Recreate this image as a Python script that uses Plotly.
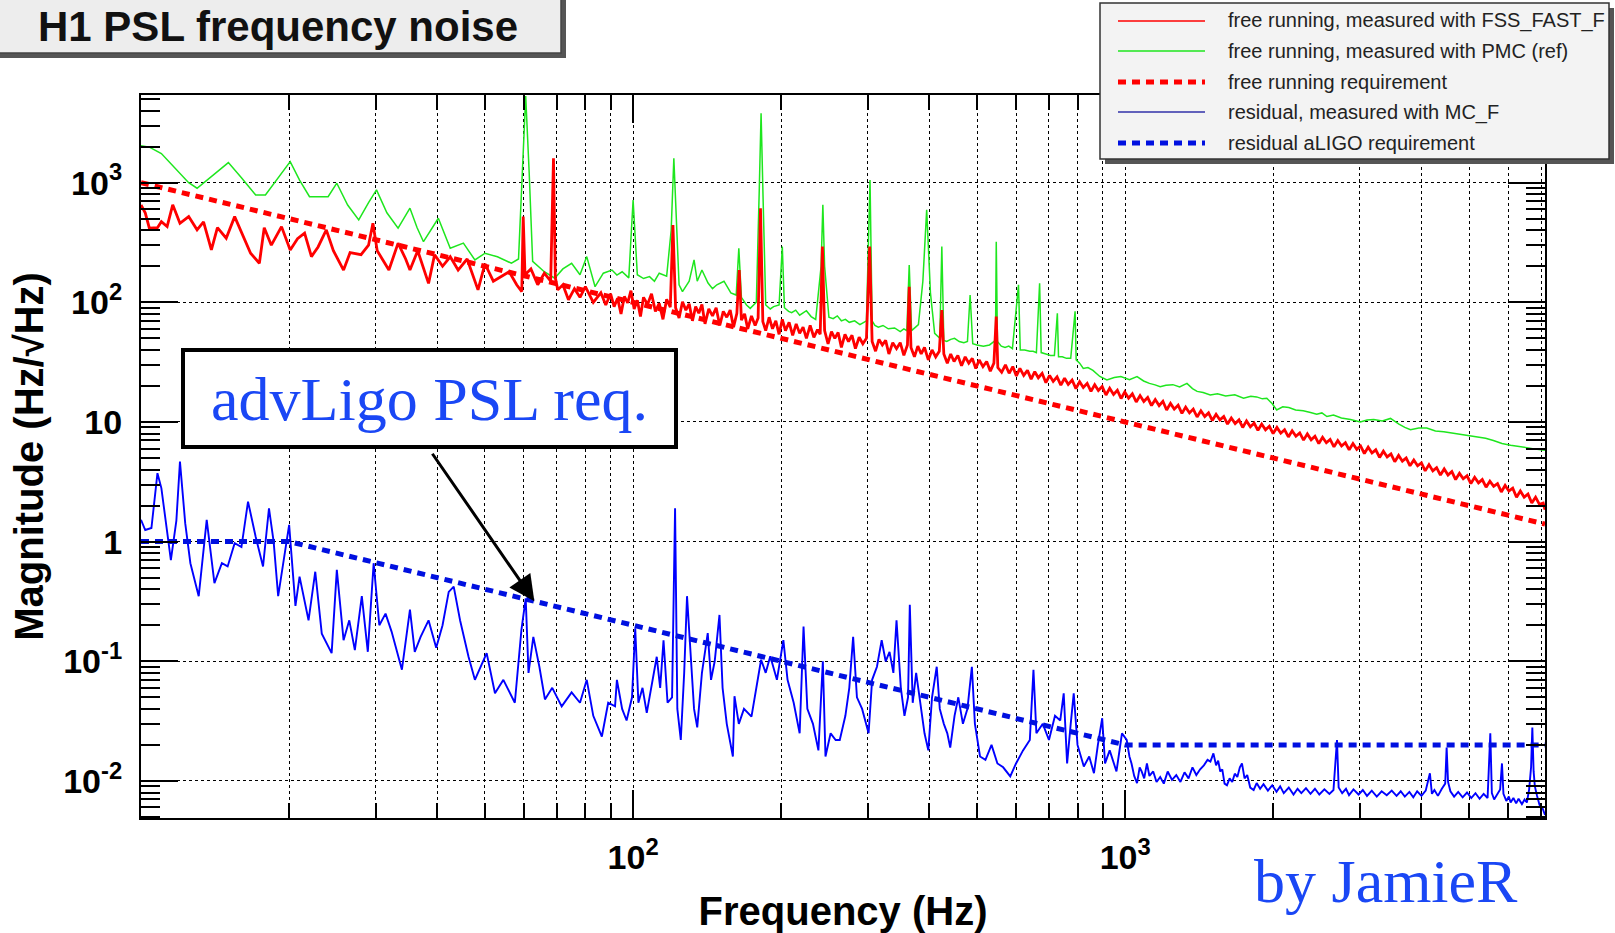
import plotly.graph_objects as go
import math

# ------------------------------------------------------------------ data
# free running, measured with PMC (ref)  -- (Hz, Hz/rtHz)
green = [
    (10.0, 2030), (10.4, 1980), (11.0, 1750), (11.8, 1300), (12.5, 1000), (13.0, 898),
    (14.0, 1150), (15.05, 1470), (16.0, 1100), (17.1, 789), (17.9, 789), (19.0, 1100),
    (20.1, 1500), (21.0, 1050), (22.0, 764), (24.0, 764), (25.0, 989), (26.3, 650),
    (27.7, 488), (29.0, 680), (30.1, 869), (31.6, 560), (33.3, 416), (35.2, 611),
    (36.4, 420), (37.5, 321), (40.2, 504), (42.5, 283), (45.2, 312), (47.7, 226),
    (50.0, 257), (53.0, 240), (56.6, 212), (58.5, 230), (59.6, 1200), (60.5, 5300),
    (61.5, 1200), (62.5, 220), (66.0, 180), (69.3, 159), (72.0, 190), (75.0, 212),
    (78.0, 170), (80.5, 241), (83.7, 135), (87.0, 175), (90.6, 186), (92.7, 169),
    (95.0, 180), (98.0, 160), (100.0, 716), (102.0, 170), (105.0, 158), (108.0, 164),
    (110.5, 150), (113.0, 175), (117.0, 165), (119.5, 400), (121.0, 1600), (122.5, 400),
    (124.0, 140), (126.0, 123), (130.0, 150), (133.0, 226), (135.0, 150), (138.0, 186),
    (142.0, 145), (145.0, 130), (148.0, 140), (153.0, 150), (158.0, 120), (162.0, 115),
    (164.0, 283), (166.0, 110), (170.0, 95), (173.0, 89), (178.0, 100), (180.5, 900),
    (182.0, 3800), (183.5, 900), (186.0, 95), (190.0, 88), (193.0, 92), (198.0, 95),
    (201.0, 292), (203.0, 90), (207.0, 84), (210.0, 82), (214.0, 86), (218.0, 78),
    (225.0, 85), (230.0, 76), (235.0, 72), (241.0, 200), (243.0, 652), (245.0, 200),
    (250.0, 75), (255.0, 73), (260.0, 77), (265.0, 70), (270.0, 72), (275.0, 68),
    (282.0, 70), (289.0, 65), (298.0, 70), (303.0, 1050), (306.0, 70), (310.0, 64),
    (315.0, 62), (322.0, 64), (330.0, 60), (340.0, 61), (349.0, 57), (355.0, 60),
    (360.0, 58), (364.0, 205), (368.0, 58), (375.0, 62), (380.0, 65), (388.0, 150),
    (392.0, 320), (395.0, 592), (398.0, 300), (402.0, 120), (410.0, 55), (420.0, 50),
    (424.0, 292), (428.0, 48), (434.0, 47), (442.0, 49), (450.0, 50), (460.0, 47),
    (470.0, 46), (478.0, 47), (484.0, 115), (490.0, 45), (500.0, 44), (515.0, 43),
    (530.0, 44), (545.0, 48), (547.0, 321), (550.0, 47), (560.0, 43), (570.0, 42),
    (580.0, 43), (590.0, 41), (607.0, 140), (612.0, 40), (625.0, 40), (640.0, 39),
    (650.0, 39), (660.0, 38), (670.0, 144), (675.0, 38), (690.0, 37), (705.0, 36),
    (718.0, 36), (728.0, 81), (732.0, 35), (745.0, 35), (760.0, 34), (775.0, 34),
    (791.0, 84), (795.0, 33), (808.0, 31), (822.0, 28), (840.0, 28.5), (860.0, 27),
    (888.0, 24), (918.0, 22.4), (950.0, 23.5), (980.0, 24), (1020, 22.5), (1057, 23.9),
    (1090, 22), (1120, 21), (1150, 20.4), (1178, 19.7), (1210, 20.3), (1250, 20.5),
    (1290, 19.6), (1335, 21), (1370, 19), (1400, 18), (1440, 17.6), (1489, 16.8),
    (1540, 17.2), (1600, 16.5), (1670, 16.9), (1740, 15.8), (1800, 16.4), (1850, 16.2),
    (1900, 15.6), (1940, 15.8), (1990, 14.2), (2032, 12.6), (2090, 13.4), (2150, 13.2),
    (2220, 12.6), (2300, 12.4), (2380, 12.0), (2450, 11.6), (2510, 11.9), (2570, 11.1),
    (2650, 11.4), (2750, 10.8), (2870, 10.5), (3005, 10.0), (3100, 10.4), (3200, 10.5),
    (3330, 10.2), (3460, 10.7), (3600, 9.6), (3700, 9.0), (3800, 8.6), (3950, 8.9),
    (4100, 8.9), (4270, 8.4), (4440, 8.3), (4620, 8.1), (4800, 7.9), (5000, 7.7),
    (5190, 7.5), (5400, 7.3), (5600, 7.0), (5830, 6.6), (6070, 6.4), (6330, 6.2),
    (6600, 6.0), (6870, 5.9), (7130, 5.8),
]

# free running, measured with FSS_FAST_F
red = [
    (10.0, 650), (10.2, 560), (10.4, 416), (10.8, 420), (11.0, 472), (11.3, 430),
    (11.6, 652), (12.0, 457), (12.5, 520), (13.0, 403), (13.4, 470), (13.9, 274),
    (14.3, 420), (14.9, 343), (15.5, 520), (16.0, 380), (16.7, 257), (17.4, 212),
    (17.8, 420), (18.4, 300), (19.3, 429), (20.1, 274), (20.8, 340), (21.5, 378),
    (22.2, 241), (22.9, 290), (23.8, 403), (24.6, 270), (25.8, 186), (26.6, 260),
    (28.0, 250), (29.0, 300), (29.6, 457), (30.2, 270), (31.9, 186), (33.3, 312),
    (34.5, 230), (35.2, 186), (36.5, 270), (38.4, 144), (39.5, 250), (41.0, 200),
    (42.5, 240), (44.1, 186), (46.0, 230), (48.4, 127), (50.0, 210), (52.0, 150),
    (54.1, 164), (56.0, 180), (58.0, 140), (59.4, 123), (59.8, 520), (60.3, 170),
    (62.0, 190), (64.0, 140), (66.0, 175), (68.0, 150), (68.9, 1600), (69.5, 160),
    (70.3, 127), (72.0, 140), (73.9, 105), (76.0, 130), (78.0, 110), (80.0, 135),
    (83.0, 100), (86.0, 120), (88.0, 95),
    (90.0, 118), (91.5, 92), (93.0, 108), (94.5, 80), (96.0, 112), (97.5, 99),
    (99.0, 125), (100.5, 88), (102.0, 104), (103.5, 76), (105.0, 110), (107.0, 96),
    (109.0, 118), (111.0, 84), (113.0, 98), (115.0, 72), (117.0, 106), (119.0, 91),
    (120.5, 443), (122.0, 90), (124.0, 74), (126.0, 101), (128.0, 86), (130.0, 97),
    (132.0, 70), (134.0, 92), (136.0, 81), (138.0, 96), (140.0, 66), (142.5, 88),
    (145.0, 77), (147.5, 90), (150.0, 64), (152.5, 84), (155.0, 75), (157.5, 86),
    (160.0, 62), (162.5, 81), (164.3, 186), (166.0, 71), (168.5, 80), (171.0, 60),
    (174.0, 77), (177.0, 64), (179.5, 74), (181.5, 611), (183.5, 69), (186.0, 58),
    (189.0, 75), (192.0, 60), (195.0, 70), (198.0, 54), (201.0, 72), (204.0, 58),
    (207.5, 68), (211.0, 53), (214.5, 66), (218.0, 55), (221.5, 62), (225.0, 50),
    (229.0, 64), (233.0, 51), (237.0, 59), (240.0, 54), (242.5, 292), (245.0, 58),
    (249.0, 45), (253.0, 57), (257.0, 50), (261.0, 56), (265.0, 42), (269.5, 54),
    (274.0, 47), (278.5, 53), (283.0, 41), (288.0, 51), (293.0, 45), (298.0, 50),
    (302.5, 292), (306.0, 47), (311.0, 39), (316.0, 49), (321.0, 44), (326.0, 48),
    (331.0, 37), (337.0, 46), (343.0, 41), (349.0, 46), (355.0, 36), (361.0, 44),
    (364.0, 135), (367.0, 42), (373.0, 35), (379.0, 43), (385.0, 37), (391.0, 42),
    (398.0, 33), (405.0, 40), (412.0, 35), (419.0, 39), (424.0, 86), (428.0, 37),
    (435.0, 31), (442.0, 37), (449.0, 32), (457.0, 36), (465.0, 29.5), (473.0, 35),
    (481.0, 31), (489.0, 34), (497.0, 28), (505.0, 33), (514.0, 29), (523.0, 32),
    (532.0, 26.5), (541.0, 31), (547.0, 76), (551.0, 28.5), (561.0, 26), (571.0, 30),
    (581.0, 25.5), (591.0, 29), (601.0, 24.2), (611.0, 28), (622.0, 24.5), (633.0, 27),
    (644.0, 22.8), (655.0, 26.3), (666.0, 23.4), (678.0, 25.5), (690.0, 21.3), (702.0, 24.5),
    (714.0, 21.8), (727.0, 23.8), (740.0, 20.3), (753.0, 23.2), (766.0, 20.6), (780.0, 22.4),
    (794.0, 19.0), (808.0, 21.7), (822.0, 19.4), (837.0, 21.0), (852.0, 18.0), (867.0, 20.5),
    (882.0, 18.3), (898.0, 19.8), (914.0, 16.8), (930.0, 19.1), (947.0, 17.0), (964.0, 18.4),
    (981.0, 15.7), (998.0, 17.8), (1016, 15.8), (1034, 17.2), (1053, 14.7), (1072, 16.6),
    (1091, 14.8), (1111, 16.0), (1131, 13.7), (1151, 15.4), (1172, 13.7), (1193, 14.9),
    (1214, 12.6), (1236, 14.3), (1258, 12.8), (1281, 13.8), (1304, 11.8), (1327, 13.3),
    (1351, 11.9), (1375, 12.8), (1400, 11.0), (1425, 12.4), (1451, 11.1), (1477, 11.9),
    (1503, 10.3), (1530, 11.6), (1558, 10.4), (1586, 11.1), (1614, 9.6), (1643, 10.8),
    (1673, 9.7), (1703, 10.4), (1733, 9.0), (1764, 10.2), (1796, 9.1), (1828, 9.8),
    (1861, 8.5), (1894, 9.6), (1928, 8.6), (1963, 9.2), (1998, 8.0), (2034, 9.0),
    (2071, 8.05), (2108, 8.6), (2146, 7.5), (2184, 8.45), (2223, 7.6), (2263, 8.1),
    (2304, 7.05), (2345, 7.95), (2387, 7.1), (2430, 7.6), (2474, 6.6), (2518, 7.45),
    (2563, 6.7), (2609, 7.15), (2656, 6.2), (2704, 7.0), (2752, 6.3), (2802, 6.7),
    (2852, 5.85), (2903, 6.6), (2955, 5.9), (3008, 6.3), (3062, 5.45), (3117, 6.15),
    (3173, 5.5), (3230, 5.85), (3288, 5.05), (3347, 5.7), (3407, 5.1), (3468, 5.4),
    (3530, 4.65), (3594, 5.25), (3658, 4.7), (3724, 5.0), (3791, 4.3), (3859, 4.8),
    (3928, 4.3), (3999, 4.55), (4070, 3.9), (4143, 4.4), (4218, 3.9), (4294, 4.15),
    (4371, 3.6), (4449, 4.05), (4529, 3.6), (4611, 3.85), (4693, 3.3), (4778, 3.72),
    (4864, 3.35), (4951, 3.55), (5040, 3.05), (5130, 3.45), (5223, 3.1), (5316, 3.3),
    (5412, 2.85), (5509, 3.2), (5608, 2.9), (5709, 3.05), (5812, 2.6), (5916, 2.95),
    (6022, 2.65), (6131, 2.8), (6241, 2.35), (6353, 2.65), (6467, 2.35), (6584, 2.5),
    (6702, 2.1), (6823, 2.35), (6946, 2.05), (7070, 2.1), (7130, 1.85),
]

# residual, measured with MC_F
blue = [
    (10.0, 1.52), (10.2, 1.25), (10.5, 1.3), (10.8, 3.73), (11.0, 2.8), (11.5, 0.70),
    (11.8, 1.5), (12.0, 4.66), (12.3, 1.42), (12.6, 0.66), (13.1, 0.35), (13.6, 1.52),
    (14.1, 0.45), (14.6, 0.66), (15.0, 0.62), (15.5, 0.97), (16.0, 0.9), (16.5, 2.16),
    (17.1, 1.1), (17.7, 0.62), (18.2, 1.9), (18.6, 1.0), (19.0, 0.35), (19.6, 0.8),
    (20.0, 1.38), (20.6, 0.29), (21.0, 0.51), (21.9, 0.22), (22.6, 0.56), (23.3, 0.17),
    (24.4, 0.117), (25.0, 0.58), (25.8, 0.15), (26.5, 0.22), (27.2, 0.124), (28.1, 0.35),
    (28.9, 0.12), (29.7, 0.66), (30.5, 0.2), (31.4, 0.25), (32.3, 0.177), (33.9, 0.085),
    (35.2, 0.27), (36.0, 0.12), (37.0, 0.16), (38.4, 0.22), (39.8, 0.13), (41.0, 0.2),
    (42.2, 0.38), (43.2, 0.42), (44.5, 0.22), (46.3, 0.109), (47.7, 0.070), (50.4, 0.117),
    (52.4, 0.054), (54.5, 0.07), (57.5, 0.045), (59.3, 0.183), (60.5, 0.336), (61.3, 0.08),
    (62.7, 0.16), (64.5, 0.09), (66.2, 0.048), (68.5, 0.06), (71.6, 0.042), (75.0, 0.055),
    (78.0, 0.045), (80.5, 0.070), (83.0, 0.035), (86.4, 0.0235), (89.0, 0.045), (91.9, 0.042),
    (92.7, 0.070), (95.0, 0.04), (97.0, 0.032), (99.5, 0.05), (101.0, 0.189), (102.5, 0.045),
    (104.5, 0.06), (106.6, 0.037), (109.0, 0.06), (111.7, 0.109), (113.5, 0.06), (115.3, 0.15),
    (117.5, 0.045), (120.0, 0.05), (121.7, 1.9), (123.0, 0.04), (125.0, 0.022), (127.0, 0.08),
    (128.7, 0.35), (131.0, 0.1), (133.0, 0.04), (135.0, 0.028), (138.0, 0.08), (141.8, 0.172),
    (144.0, 0.07), (146.5, 0.1), (149.8, 0.244), (152.0, 0.06), (155.0, 0.03), (159.5, 0.016),
    (160.7, 0.051), (164.0, 0.03), (168.0, 0.04), (174.0, 0.0345), (178.0, 0.06), (182.0, 0.103),
    (186.0, 0.08), (190.0, 0.11), (196.0, 0.07), (202.0, 0.15), (206.0, 0.07), (212.0, 0.045),
    (218.0, 0.025), (222.0, 0.195), (226.0, 0.04), (232.0, 0.03), (238.0, 0.018), (243.0, 0.1),
    (246.0, 0.016), (252.0, 0.025), (258.0, 0.022), (263.0, 0.022), (270.0, 0.035), (275.0, 0.06),
    (280.0, 0.16), (285.0, 0.05), (292.0, 0.04), (301.0, 0.025), (306.0, 0.07), (313.0, 0.09),
    (320.0, 0.15), (326.0, 0.1), (332.0, 0.12), (338.0, 0.08), (343.0, 0.22), (350.0, 0.06),
    (356.0, 0.035), (362.0, 0.05), (365.0, 0.296), (370.0, 0.045), (376.0, 0.08), (385.0, 0.04),
    (391.0, 0.025), (398.0, 0.018), (405.0, 0.05), (414.0, 0.090), (420.0, 0.04), (428.0, 0.03),
    (435.0, 0.025), (441.0, 0.019), (450.0, 0.035), (458.0, 0.05), (468.0, 0.03), (478.0, 0.04),
    (488.0, 0.09), (495.0, 0.03), (507.0, 0.016), (520.0, 0.015), (535.0, 0.02), (550.0, 0.014),
    (565.0, 0.013), (584.0, 0.0109), (600.0, 0.014), (620.0, 0.018), (640.0, 0.022), (651.0, 0.085),
    (660.0, 0.025), (680.0, 0.03), (700.0, 0.022), (720.0, 0.035), (738.0, 0.032), (750.0, 0.054),
    (762.0, 0.014), (775.0, 0.03), (786.0, 0.054), (800.0, 0.02), (824.0, 0.0132), (845.0, 0.016),
    (864.0, 0.0116), (880.0, 0.02), (898.0, 0.0334), (910.0, 0.014), (930.0, 0.018), (960.0, 0.012),
    (985.0, 0.025),
    (1007, 0.022), (1020, 0.016), (1030, 0.014), (1043, 0.011), (1057, 0.0096), (1070, 0.013),
    (1080, 0.012), (1093, 0.0105), (1107, 0.014), (1120, 0.011), (1140, 0.012), (1158, 0.0098),
    (1178, 0.0108), (1198, 0.0095), (1220, 0.012), (1245, 0.0102), (1270, 0.0112), (1295, 0.0098),
    (1320, 0.0118), (1345, 0.0105), (1370, 0.013), (1395, 0.0112), (1420, 0.0125), (1445, 0.0135),
    (1470, 0.015), (1490, 0.0145), (1511, 0.017), (1530, 0.0135), (1545, 0.0148), (1560, 0.012),
    (1575, 0.0125), (1592, 0.0095), (1610, 0.0092), (1630, 0.0105), (1650, 0.0098), (1670, 0.0115),
    (1690, 0.0108), (1710, 0.013), (1727, 0.014), (1748, 0.0105), (1770, 0.0112), (1795, 0.0088),
    (1824, 0.0084), (1850, 0.0096), (1880, 0.0086), (1910, 0.0094), (1950, 0.0083), (1990, 0.0092),
    (2030, 0.0081), (2065, 0.009), (2100, 0.0079), (2150, 0.0088), (2198, 0.0077), (2240, 0.0086),
    (2280, 0.0079), (2330, 0.0087), (2380, 0.0078), (2430, 0.0086), (2480, 0.0077), (2540, 0.0085),
    (2600, 0.0078), (2650, 0.0084), (2694, 0.022), (2715, 0.0088), (2760, 0.0079), (2810, 0.0086),
    (2850, 0.0076), (2910, 0.0085), (2980, 0.0077), (3040, 0.0084), (3100, 0.0075), (3170, 0.0083),
    (3245, 0.0074), (3320, 0.0082), (3400, 0.0076), (3480, 0.0083), (3560, 0.0075), (3630, 0.0082),
    (3700, 0.0074), (3780, 0.0081), (3850, 0.0073), (3920, 0.0082), (4000, 0.0075), (4080, 0.0083),
    (4161, 0.0116), (4200, 0.0078), (4250, 0.0084), (4320, 0.0075), (4400, 0.0086), (4470, 0.0095),
    (4500, 0.019), (4530, 0.0098), (4580, 0.0082), (4660, 0.0074), (4750, 0.0081), (4850, 0.0073),
    (4950, 0.008), (5050, 0.0072), (5150, 0.0079), (5250, 0.0071), (5350, 0.0078), (5450, 0.0072),
    (5520, 0.025), (5560, 0.0079), (5620, 0.007), (5700, 0.0077), (5780, 0.0085), (5830, 0.014),
    (5870, 0.0078), (5950, 0.0068), (6020, 0.0074), (6070, 0.0066), (6150, 0.0072), (6230, 0.0065),
    (6300, 0.0071), (6400, 0.0064), (6480, 0.007), (6550, 0.0066), (6620, 0.0085), (6680, 0.013),
    (6720, 0.028), (6760, 0.012), (6800, 0.009), (6870, 0.0075), (6950, 0.0063), (7040, 0.006),
    (7130, 0.0052),
]

# requirements
req_free_f = [10, 7130]
req_free_v = [1000, 1.4]
req_res_f = [10, 20, 1000, 7130]
req_res_v = [1, 1, 0.02, 0.02]

series_names = [
    "free running, measured with FSS_FAST_F",
    "free running, measured with PMC (ref)",
    "free running requirement",
    "residual, measured with MC_F",
    "residual aLIGO requirement",
]

# axis ticks
x_range_hz = [10, 7130]
y_range = [0.0049, 5400]
x_major = [100, 1000]
x_major_text = ["10<sup>2</sup>", "10<sup>3</sup>"]
x_minor = [20, 30, 40, 50, 60, 70, 80, 90, 200, 300, 400, 500, 600, 700, 800, 900,
           2000, 3000, 4000, 5000, 6000, 7000]
y_major = [0.01, 0.1, 1, 10, 100, 1000]
y_major_text = ["10<sup>-2</sup>", "10<sup>-1</sup>", "1", "10", "10<sup>2</sup>", "10<sup>3</sup>"]
y_minor = [0.005, 0.006, 0.007, 0.008, 0.009,
           0.02, 0.03, 0.04, 0.05, 0.06, 0.07, 0.08, 0.09,
           0.2, 0.3, 0.4, 0.5, 0.6, 0.7, 0.8, 0.9,
           2, 3, 4, 5, 6, 7, 8, 9,
           20, 30, 40, 50, 60, 70, 80, 90,
           200, 300, 400, 500, 600, 700, 800, 900,
           2000, 3000, 4000, 5000]

arrow_target_f = 63.0

# ------------------------------------------------------------------ style
W, H = 1615, 933
PL, PR, PT, PB = 141, 1545, 95, 818      # plot area in pixels
RED = "#ff0000"
GREEN = "#1ee61e"
BLUE = "#0000ff"
BLUE_REQ = "#0010e0"
TXT_BLUE = "#1a47f5"
SANS = "Liberation Sans, Arial, Helvetica, sans-serif"
SERIF = "Liberation Serif, Times New Roman, serif"
DOT = "8px,6px"


def px_x(px):
    return (px - PL) / (PR - PL)


def px_y(py):
    return (PB - py) / (PB - PT)


fig = go.Figure()

fig.add_trace(go.Scatter(x=[p[0] for p in green], y=[p[1] for p in green], mode="lines",
                         line=dict(color=GREEN, width=1.5), name=series_names[1]))
fig.add_trace(go.Scatter(x=[p[0] for p in red], y=[p[1] for p in red], mode="lines",
                         line=dict(color=RED, width=2.8), name=series_names[0]))
fig.add_trace(go.Scatter(x=[p[0] for p in blue], y=[p[1] for p in blue], mode="lines",
                         line=dict(color=BLUE, width=1.9), name=series_names[3]))
fig.add_trace(go.Scatter(x=req_free_f, y=req_free_v, mode="lines",
                         line=dict(color=RED, width=5, dash=DOT), name=series_names[2]))
fig.add_trace(go.Scatter(x=req_res_f, y=req_res_v, mode="lines",
                         line=dict(color=BLUE_REQ, width=5, dash=DOT), name=series_names[4]))

axis_common = dict(
    type="log", showline=True, linecolor="black", linewidth=2, mirror="ticks",
    ticks="inside", tickcolor="black", tickwidth=2,
    showgrid=True, gridcolor="black", gridwidth=1, griddash="dot",
    zeroline=False, automargin=False,
    tickfont=dict(family=SANS, size=34, color="black", weight="bold"),
)

fig.update_xaxes(
    **axis_common,
    range=[math.log10(x_range_hz[0]), math.log10(x_range_hz[1])],
    tickmode="array", tickvals=x_major, ticktext=x_major_text, ticklen=28,
    ticklabelstandoff=8,
    minor=dict(tickmode="array", tickvals=x_minor, ticks="inside", ticklen=15,
               tickwidth=1.5, tickcolor="black", showgrid=True, gridcolor="black",
               gridwidth=1, griddash="dot"),
    title=dict(text="Frequency (Hz)", standoff=22,
               font=dict(family=SANS, size=40, color="black", weight="bold")),
)
fig.update_yaxes(
    **axis_common,
    range=[math.log10(y_range[0]), math.log10(y_range[1])],
    tickmode="array", tickvals=y_major, ticktext=y_major_text, ticklen=37,
    ticklabelstandoff=10,
    minor=dict(tickmode="array", tickvals=y_minor, ticks="inside", ticklen=19,
               tickwidth=1.5, tickcolor="black", showgrid=False),
    title=dict(text="Magnitude (Hz/\u221aHz)", standoff=7,
               font=dict(family=SANS, size=40, color="black", weight="bold")),
)

shapes = []
annotations = []

# title box with shadow
shapes.append(dict(type="rect", xref="paper", yref="paper", layer="above",
                   x0=px_x(-10), x1=px_x(566), y0=px_y(58), y1=px_y(-10),
                   fillcolor="#555555", line=dict(width=0)))
shapes.append(dict(type="rect", xref="paper", yref="paper", layer="above",
                   x0=px_x(-10), x1=px_x(561), y0=px_y(53), y1=px_y(-10),
                   fillcolor="#ededed", line=dict(color="#444444", width=1.5)))
annotations.append(dict(xref="paper", yref="paper", x=px_x(278), y=px_y(27),
                        text="H1 PSL frequency noise", showarrow=False,
                        xanchor="center", yanchor="middle",
                        font=dict(family=SANS, size=42, color="#111111", weight="bold")))

# legend box with shadow
LEG_X0, LEG_X1, LEG_Y0, LEG_Y1 = 1100, 1609, 3, 159
shapes.append(dict(type="rect", xref="paper", yref="paper", layer="above",
                   x0=px_x(LEG_X0 + 5), x1=px_x(LEG_X1 + 5), y0=px_y(LEG_Y1 + 5), y1=px_y(LEG_Y0 + 5),
                   fillcolor="#555555", line=dict(width=0)))
shapes.append(dict(type="rect", xref="paper", yref="paper", layer="above",
                   x0=px_x(LEG_X0), x1=px_x(LEG_X1), y0=px_y(LEG_Y1), y1=px_y(LEG_Y0),
                   fillcolor="#f3f3f3", line=dict(color="#333333", width=1.5)))
legend_styles = [
    dict(color=RED, width=1.3),
    dict(color=GREEN, width=1.6),
    dict(color=RED, width=5, dash=DOT),
    dict(color="#3030a8", width=1.3),
    dict(color=BLUE_REQ, width=5, dash=DOT),
]
legend_rows = [21, 51, 82, 112, 143]
for name, st, row in zip(series_names, legend_styles, legend_rows):
    shapes.append(dict(type="line", xref="paper", yref="paper", layer="above",
                       x0=px_x(1118), x1=px_x(1205), y0=px_y(row), y1=px_y(row), line=st))
    annotations.append(dict(xref="paper", yref="paper", x=px_x(1226), y=px_y(row),
                            text=name, showarrow=False, xanchor="left", yanchor="middle",
                            font=dict(family=SANS, size=20, color="#222222")))

# requirement label box + arrow
annotations.append(dict(xref="paper", yref="paper", x=px_x(429.5), y=px_y(398.5),
                        text="advLigo PSL req.", showarrow=False,
                        xanchor="center", yanchor="middle", width=489, height=93,
                        bgcolor="white", bordercolor="black", borderwidth=4, borderpad=0,
                        font=dict(family=SERIF, size=62, color=TXT_BLUE)))
# arrow head on the residual requirement line (interpolated in log space)
lf = math.log10(arrow_target_f)
lf0, lf1 = math.log10(req_res_f[1]), math.log10(req_res_f[2])
lv0, lv1 = math.log10(req_res_v[1]), math.log10(req_res_v[2])
arrow_lv = lv0 + (lf - lf0) / (lf1 - lf0) * (lv1 - lv0)
annotations.append(dict(xref="x", yref="y", x=lf, y=arrow_lv, text="",
                        showarrow=True, arrowhead=2, arrowsize=1.7, arrowwidth=3,
                        arrowcolor="black", ax=-103, ay=-149, standoff=0))

annotations.append(dict(xref="paper", yref="paper", x=px_x(1386), y=px_y(881),
                        text="by JamieR", showarrow=False, xanchor="center", yanchor="middle",
                        font=dict(family=SERIF, size=62, color=TXT_BLUE)))

fig.update_layout(
    width=W, height=H, autosize=False,
    margin=dict(l=PL, r=W - PR, t=PT, b=H - PB, pad=0),
    paper_bgcolor="white", plot_bgcolor="white",
    showlegend=False,
    shapes=shapes, annotations=annotations,
    font=dict(family=SANS, color="black"),
)

fig.write_html("out.html", include_plotlyjs=True,
               config={"displayModeBar": False},
               post_script="document.body.style.margin='0';document.body.style.overflow='hidden';")
